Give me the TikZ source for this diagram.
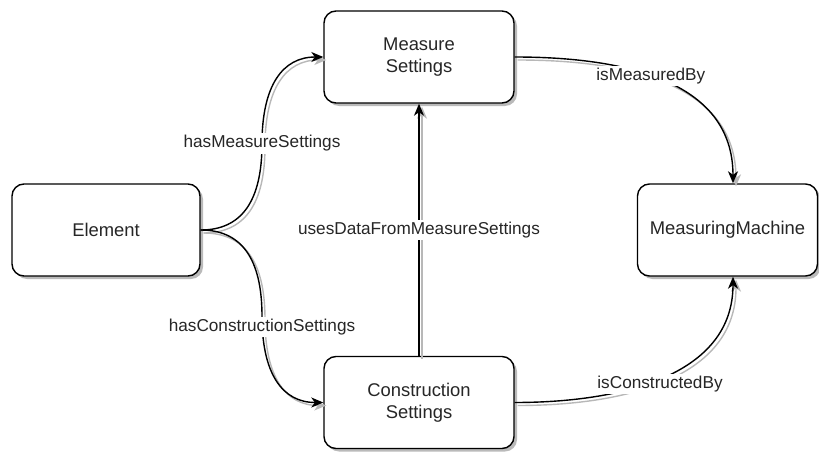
\documentclass[tikz,border=0pt]{standalone}
\usepackage{fontspec}
\setmainfont{Liberation Sans}
\usetikzlibrary{arrows.meta,calc,shadows}

\tikzset{
  box/.style={draw=black, line width=1.4pt, rounded corners=12pt, fill=white,
    minimum width=190pt, minimum height=92pt, align=center, inner sep=0pt,
    font=\fontsize{18.4}{22}\selectfont, text=black!85,
    drop shadow={shadow xshift=3pt, shadow yshift=-3pt, fill=black!45, opacity=0.6}},
  conn/.style={line width=1.4pt, draw=black,
    -{Stealth[length=12pt, width=10pt, inset=3.5pt]},
    preaction={draw=black!28, line width=1.4pt, transform canvas={shift={(3pt,-3pt)}}}},
  lbl/.style={fill=white, inner sep=2pt, font=\fontsize{17.2}{20}\selectfont, text=black!85}
}

\begin{document}
\begin{tikzpicture}[x=1pt, y=-1pt]
  \useasboundingbox (0,0) rectangle (819,452);

  % entities
  \node[box] (E)  at (106,230)   [minimum width=188pt] {Element};
  \node[box] (MS) at (419,57)    {Measure\\Settings};
  \node[box] (CS) at (419,402.5) {Construction\\Settings};
  \node[box] (MM) at (727.5,230) [minimum width=180pt] {MeasuringMachine};

  % bend helpers for the two orthogonal curved links out of Element
  \path (E.east) -- (MS.west) coordinate[midway] (m1);
  \coordinate (k1) at (m1 |- E.east);
  \coordinate (k2) at (m1 |- MS.west);
  \path (E.east) -- (CS.west) coordinate[midway] (m2);
  \coordinate (k3) at (m2 |- E.east);
  \coordinate (k4) at (m2 |- CS.west);

  % Element -> Measure Settings
  \draw[conn] (E.east)
    .. controls ($(E.east)!2/3!(k1)$) and ($(m1)!2/3!(k1)$) .. (m1)
    node[lbl] {hasMeasureSettings}
    .. controls ($(m1)!2/3!(k2)$) and ($(MS.west)!2/3!(k2)$) .. (MS.west);

  % Element -> Construction Settings
  \draw[conn] (E.east)
    .. controls ($(E.east)!2/3!(k3)$) and ($(m2)!2/3!(k3)$) .. (m2)
    node[lbl, yshift=-11pt] {hasConstructionSettings}
    .. controls ($(m2)!2/3!(k4)$) and ($(CS.west)!2/3!(k4)$) .. (CS.west);

  % Construction Settings -> Measure Settings
  \draw[conn] (CS.north) -- node[lbl] {usesDataFromMeasureSettings} (MS.south);

  % Measure Settings -> MeasuringMachine
  \coordinate (mmT) at ([xshift=5.5pt]MM.north);
  \draw[conn] (MS.east)
    .. controls ($(MS.east)+(106,0)$) and ($(mmT)+(0,-104)$) .. (mmT)
    node[lbl, pos=0.45] {isMeasuredBy};

  % Construction Settings -> MeasuringMachine
  \coordinate (mmB) at ([xshift=5.5pt]MM.south);
  \draw[conn] (CS.east)
    .. controls ($(CS.east)+(106,0)$) and ($(mmB)+(0,99)$) .. (mmB)
    node[lbl, pos=0.47, xshift=4pt, yshift=-4pt] {isConstructedBy};
\end{tikzpicture}
\end{document}
